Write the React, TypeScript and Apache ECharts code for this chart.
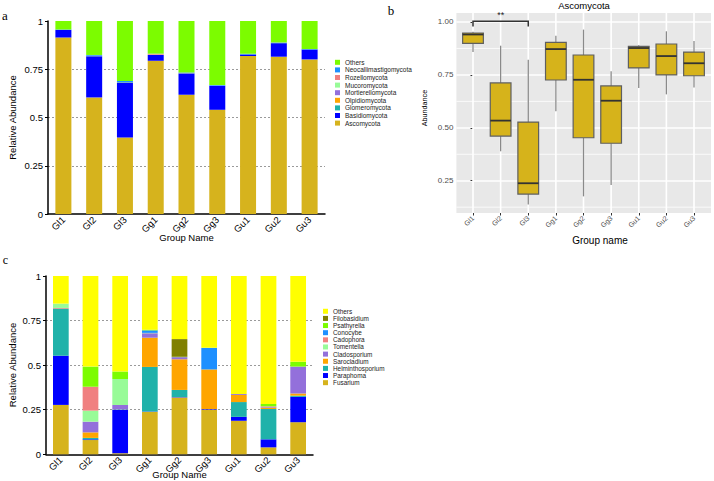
import React, { useEffect, useRef } from "react";
import * as echarts from "echarts";

const FONT = "'Liberation Sans', Arial, sans-serif";
const SERIF = "'Liberation Serif', 'Times New Roman', serif";

const groups = ["Gl1", "Gl2", "Gl3", "Gg1", "Gg2", "Gg3", "Gu1", "Gu2", "Gu3"];

// ---- Panel a: phylum level (stack order bottom -> top)
const phylumNames = [
  "Ascomycota", "Basidiomycota", "Glomeromycota", "Olpidiomycota", "Mortierellomycota",
  "Mucoromycota", "Rozellomycota", "Neocallimastigomycota", "Others",
];
const phylumColors = [
  "#D6B31D", "#0000FF", "#20B2AA", "#FFA500", "#9370DB",
  "#98FB98", "#F08080", "#1E90FF", "#7CFC00",
];
const ascomycota = [0.915, 0.604, 0.397, 0.794, 0.618, 0.540, 0.819, 0.815, 0.801];
const basidiomycota = [0.038, 0.213, 0.284, 0.030, 0.110, 0.124, 0.008, 0.070, 0.051];
const glomeromycota = [0.001, 0.001, 0.001, 0.001, 0.001, 0.001, 0.001, 0.001, 0.001];
const olpidiomycota = [0, 0, 0, 0.001, 0, 0, 0, 0, 0];
const mortierellomycota = [0, 0.001, 0.001, 0, 0, 0, 0, 0, 0];
const mucoromycota = [0, 0, 0.001, 0, 0, 0, 0, 0, 0];
const rozellomycota = [0, 0.001, 0, 0.004, 0.001, 0, 0, 0.001, 0];
const neocallimastigomycota = [0.002, 0.004, 0.005, 0.001, 0.003, 0.003, 0.002, 0.002, 0.002];
const othersPhylum = [0.044, 0.176, 0.311, 0.169, 0.267, 0.332, 0.170, 0.111, 0.145];
const phylumValues = [
  ascomycota, basidiomycota, glomeromycota, olpidiomycota, mortierellomycota,
  mucoromycota, rozellomycota, neocallimastigomycota, othersPhylum,
];

// ---- Panel b: Ascomycota box plot
const boxLow = [0.858, 0.389, 0.138, 0.578, 0.176, 0.230, 0.688, 0.658, 0.690];
const boxQ1 = [0.899, 0.461, 0.187, 0.726, 0.453, 0.427, 0.783, 0.750, 0.746];
const boxMedian = [0.941, 0.534, 0.238, 0.872, 0.727, 0.628, 0.877, 0.839, 0.805];
const boxQ3 = [0.948, 0.712, 0.527, 0.904, 0.844, 0.698, 0.885, 0.896, 0.858];
const boxHigh = [0.954, 0.888, 0.822, 0.935, 0.964, 0.767, 0.890, 0.956, 0.910];
const sigFrom = 0; // Gl1
const sigTo = 2; // Gl3
const sigTop = 1.003;
const sigFoot = 0.979;
const sigLabel = "**";
const bMajor = [0.25, 0.5, 0.75, 1.0];
const bMinor = [0.125, 0.375, 0.625, 0.875];
const bMin = 0.0974;
const bMax = 1.0425;
const bXMin = -0.6;
const bXMax = 8.6;

// ---- Panel c: genus level (stack order bottom -> top)
const genusNames = [
  "Fusarium", "Paraphoma", "Helminthosporium", "Sarocladium", "Cladosporium",
  "Tomentella", "Cadophora", "Conocybe", "Psathyrella", "Filobasidium", "Others",
];
const genusColors = [
  "#D6B31D", "#0000FF", "#20B2AA", "#FFA500", "#9370DB",
  "#98FB98", "#F08080", "#1E90FF", "#7CFC00", "#808000", "#FFFF00",
];
const fusarium = [0.277, 0.080, 0.006, 0.238, 0.319, 0.251, 0.188, 0.039, 0.180];
const paraphoma = [0.276, 0.004, 0.243, 0.002, 0.002, 0.003, 0.022, 0.045, 0.142];
const helminthosporium = [0.262, 0.008, 0.002, 0.250, 0.040, 0, 0.083, 0.170, 0.007];
const sarocladium = [0.003, 0.031, 0, 0.164, 0.172, 0.222, 0.040, 0.008, 0.012];
const cladosporium = [0.003, 0.060, 0.026, 0.025, 0.012, 0, 0.005, 0.004, 0.151];
const tomentella = [0.024, 0.062, 0.145, 0.002, 0, 0, 0, 0, 0];
const cadophora = [0, 0.134, 0, 0, 0, 0, 0, 0.003, 0];
const conocybe = [0, 0, 0, 0.014, 0, 0.121, 0, 0, 0];
const psathyrella = [0, 0.113, 0.042, 0.004, 0.002, 0, 0, 0.013, 0.027];
const filobasidium = [0, 0, 0, 0, 0.099, 0, 0, 0, 0];
const othersGenus = [0.155, 0.508, 0.536, 0.301, 0.354, 0.403, 0.662, 0.718, 0.481];
const genusValues = [
  fusarium, paraphoma, helminthosporium, sarocladium, cladosporium,
  tomentella, cadophora, conocybe, psathyrella, filobasidium, othersGenus,
];

// vertical white panel grid line at each category (ggplot style)
function renderVGrid(_params: any, api: any) {
  const i = api.value(0);
  const top = api.coord([i, api.value(2)]);
  const bottom = api.coord([i, api.value(1)]);
  return {
    type: "line",
    shape: { x1: top[0], y1: top[1], x2: bottom[0], y2: bottom[1] },
    style: { stroke: "#FFFFFF", lineWidth: 1.6 },
  };
}

// minor horizontal white grid lines
function renderHMinor(_params: any, api: any) {
  const v = api.value(2);
  const left = api.coord([api.value(0), v]);
  const right = api.coord([api.value(1), v]);
  return {
    type: "line",
    shape: { x1: left[0], y1: left[1], x2: right[0], y2: right[1] },
    style: { stroke: "#FFFFFF", lineWidth: 0.8 },
  };
}

function renderBox(_params: any, api: any) {
  const i = api.value(0);
  const lo = api.coord([i, api.value(1)]);
  const q1 = api.coord([i, api.value(2)]);
  const md = api.coord([i, api.value(3)]);
  const q3 = api.coord([i, api.value(4)]);
  const hi = api.coord([i, api.value(5)]);
  const band = api.size([1, 0])[0];
  const w = band * 0.75;
  const x = lo[0];
  return {
    type: "group",
    children: [
      { type: "line", shape: { x1: x, y1: hi[1], x2: x, y2: q3[1] }, style: { stroke: "#8A8A8A", lineWidth: 1.3 } },
      { type: "line", shape: { x1: x, y1: q1[1], x2: x, y2: lo[1] }, style: { stroke: "#8A8A8A", lineWidth: 1.3 } },
      {
        type: "rect",
        shape: { x: x - w / 2, y: q3[1], width: w, height: q1[1] - q3[1] },
        style: { fill: "#D6B31B", stroke: "#5F5F5F", lineWidth: 1.2 },
      },
      { type: "line", shape: { x1: x - w / 2, y1: md[1], x2: x + w / 2, y2: md[1] }, style: { stroke: "#333333", lineWidth: 1.8 } },
    ],
  };
}

function renderSig(_params: any, api: any) {
  const a = api.value(0);
  const b = api.value(1);
  const p1 = api.coord([a, api.value(3)]);
  const p2 = api.coord([a, api.value(2)]);
  const p3 = api.coord([b, api.value(2)]);
  const p4 = api.coord([b, api.value(3)]);
  return {
    type: "group",
    children: [
      { type: "polyline", shape: { points: [p1, p2, p3, p4] }, style: { stroke: "#333", lineWidth: 1.5, fill: "none" } },
      {
        type: "text",
        x: (p2[0] + p3[0]) / 2,
        y: p2[1] - 1.5,
        style: {
          text: sigLabel, fontSize: 9, fontFamily: FONT, fill: "#222",
          align: "center", verticalAlign: "bottom", textAlign: "center", textVerticalAlign: "bottom",
        },
      },
    ],
  };
}

function barAxisX(gridIndex: number) {
  return {
    type: "category", gridIndex, data: groups,
    axisLine: { lineStyle: { color: "#000", width: 1.5 } },
    axisTick: { length: 3, lineStyle: { color: "#000" } },
    axisLabel: { rotate: 45, fontSize: 9.5, color: "#000", margin: 4, fontFamily: FONT },
  };
}

function barAxisY(gridIndex: number) {
  return {
    type: "value", gridIndex, min: 0, max: 1, interval: 0.25,
    axisLine: { show: true, lineStyle: { color: "#000", width: 1.5 } },
    axisTick: { show: true, length: 3, lineStyle: { color: "#000" } },
    axisLabel: { fontSize: 9.5, color: "#000", margin: 5, fontFamily: FONT },
    splitLine: { show: true, showMaxLine: false, showMinLine: false, lineStyle: { type: [2, 2], color: "#9A9A9A", width: 1 } },
  };
}

function legendData(names: string[], colors: string[]) {
  return names.map((n, i) => ({ name: n, itemStyle: { color: colors[i] } })).reverse();
}

function textEl(text: string, x: number, y: number, size: number, opts: any = {}) {
  return {
    type: "text", x, y, rotation: opts.rotation || 0, silent: true,
    style: {
      text, fontSize: size, fontFamily: opts.family || FONT, fill: opts.fill || "#000",
      align: "center", verticalAlign: "middle", textAlign: "center", textVerticalAlign: "middle",
    },
  };
}

export default function App() {
  const ref = useRef<HTMLDivElement>(null);

  useEffect(() => {
    if (!ref.current) return;
    const chart = echarts.init(ref.current, null, { renderer: "svg" });

    const series: any[] = [];
    phylumNames.forEach((name, k) => {
      series.push({
        type: "bar", name, stack: "a", xAxisIndex: 0, yAxisIndex: 0,
        data: phylumValues[k], barWidth: "52%", itemStyle: { color: phylumColors[k] },
      });
    });
    genusNames.forEach((name, k) => {
      series.push({
        type: "bar", name, stack: "c", xAxisIndex: 3, yAxisIndex: 3,
        data: genusValues[k], barWidth: "53%", itemStyle: { color: genusColors[k] },
      });
    });
    series.push({
      type: "custom", name: "hminor", xAxisIndex: 1, yAxisIndex: 1, clip: false, silent: true,
      renderItem: renderHMinor,
      encode: { x: [0, 1], y: 2 },
      data: bMinor.map((v) => [bXMin, bXMax, v]),
      z: 1,
    });
    series.push({
      type: "custom", name: "vgrid", xAxisIndex: 2, yAxisIndex: 2, clip: false, silent: true,
      renderItem: renderVGrid,
      encode: { x: 0, y: [1, 2] },
      data: groups.map((_, i) => [i, bMin, bMax]),
      z: 1,
    });
    series.push({
      type: "custom", name: "box", xAxisIndex: 2, yAxisIndex: 2, clip: false,
      renderItem: renderBox,
      encode: { x: 0, y: [1, 2, 3, 4, 5] },
      data: groups.map((_, i) => [i, boxLow[i], boxQ1[i], boxMedian[i], boxQ3[i], boxHigh[i]]),
      z: 3,
    });
    series.push({
      type: "custom", name: "sig", xAxisIndex: 2, yAxisIndex: 2, clip: false,
      renderItem: renderSig,
      encode: { x: [0, 1], y: [2, 3] },
      data: [[sigFrom, sigTo, sigTop, sigFoot]],
      z: 4,
    });

    const option: any = {
      animation: false,
      textStyle: { fontFamily: FONT },
      grid: [
        { left: 48, top: 21, width: 277, height: 193 },
        { left: 456.4, top: 13, width: 254.6, height: 200, show: true, backgroundColor: "#E8E8E8", borderWidth: 0 },
        { left: 473, top: 13, width: 221, height: 200 },
        { left: 46, top: 276, width: 267, height: 178.3 },
      ],
      xAxis: [
        barAxisX(0),
        { type: "value", gridIndex: 1, min: bXMin, max: bXMax, show: false },
        {
          type: "category", gridIndex: 2, data: groups, boundaryGap: false,
          axisLine: { show: false },
          axisTick: { show: true, length: 2.5, lineStyle: { color: "#333" } },
          axisLabel: { rotate: 45, fontSize: 7, color: "#4D4D4D", margin: 4, fontFamily: FONT },
          splitLine: { show: false },
        },
        barAxisX(3),
      ],
      yAxis: [
        barAxisY(0),
        {
          type: "value", gridIndex: 1, min: bMin, max: bMax,
          axisLine: { show: false },
          axisTick: { show: true, customValues: bMajor, length: 2.5, lineStyle: { color: "#333" } },
          axisLabel: {
            customValues: bMajor, fontSize: 8, color: "#4D4D4D", margin: 3, fontFamily: FONT,
            formatter: (v: number) => v.toFixed(2),
          },
          splitLine: { show: true, lineStyle: { color: "#FFFFFF", width: 1.6 } },
        },
        { type: "value", gridIndex: 2, min: bMin, max: bMax, show: false },
        barAxisY(3),
      ],
      legend: [
        {
          orient: "vertical", left: 330, top: 53.5, itemWidth: 5, itemHeight: 5, itemGap: 0,
          icon: "rect", selectedMode: false,
          textStyle: { fontSize: 6.5, lineHeight: 7.6, color: "#222", fontFamily: FONT },
          data: legendData(phylumNames, phylumColors),
        },
        {
          orient: "vertical", left: 318, top: 302.7, itemWidth: 5, itemHeight: 5, itemGap: 0,
          icon: "rect", selectedMode: false,
          textStyle: { fontSize: 6.4, lineHeight: 7.14, color: "#222", fontFamily: FONT },
          data: legendData(genusNames, genusColors),
        },
      ],
      graphic: [
        textEl("a", 5, 15, 13, { family: SERIF }),
        textEl("b", 391, 10, 13, { family: SERIF }),
        textEl("c", 5.5, 260, 12, { family: SERIF }),
        textEl("Relative Abundance", 12, 117.5, 9.5, { rotation: Math.PI / 2 }),
        textEl("Group Name", 186.5, 237, 9.5),
        textEl("Ascomycota", 584, 5.5, 9.5),
        textEl("Abundance", 424.5, 108, 7.2, { rotation: Math.PI / 2 }),
        textEl("Group name", 600, 240.5, 10),
        textEl("Relative Abundance", 12, 365, 9.5, { rotation: Math.PI / 2 }),
        textEl("Group Name", 179.5, 474.5, 9.5),
      ],
      series,
    };

    chart.setOption(option);
    return () => chart.dispose();
  }, []);

  return (
    <div
      ref={ref}
      style={{ position: "fixed", left: 0, top: 0, width: 714, height: 481, background: "#fff" }}
    />
  );
}
